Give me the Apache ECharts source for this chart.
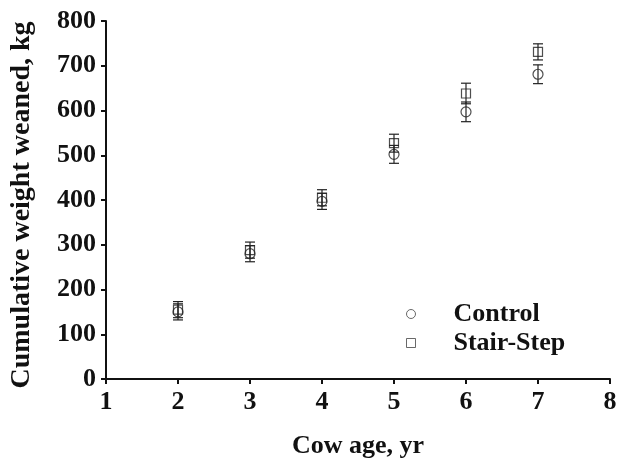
<!DOCTYPE html>
<html>
<head>
<meta charset="utf-8">
<script src="https://cdn.jsdelivr.net/npm/echarts@6/dist/echarts.min.js"></script>
<style>
html,body{margin:0;padding:0;background:#fff;}
#chart{width:623px;height:465px;}
</style>
</head>
<body>
<div id="chart"></div>
<script>
var ages = [2, 3, 4, 5, 6, 7];
var controlMean = [150, 280, 397, 502, 597, 681];
var controlErr = [18, 18, 18, 20, 22, 21];
var stairMean = [155, 288, 405, 527, 638, 731];
var stairErr = [18, 18, 18, 20, 23, 18];
var xTicks = [1, 2, 3, 4, 5, 6, 7, 8];
var yTicks = [0, 100, 200, 300, 400, 500, 600, 700, 800];

var FONT = '"Liberation Serif", "Times New Roman", serif';
var INK = '#222';
var FS = 26;

function pts(mean) { return ages.map(function (a, i) { return [a, mean[i]]; }); }
function errData(mean, err) {
  return ages.map(function (a, i) { return [a, mean[i] - err[i], mean[i] + err[i]]; });
}
function errRender(params, api) {
  var x = api.value(0);
  var lo = api.coord([x, api.value(1)]);
  var hi = api.coord([x, api.value(2)]);
  var hw = 5;
  var st = { stroke: INK, lineWidth: 1.2 };
  return {
    type: 'group',
    children: [
      { type: 'line', shape: { x1: lo[0], y1: lo[1], x2: hi[0], y2: hi[1] }, style: st },
      { type: 'line', shape: { x1: lo[0] - hw, y1: lo[1], x2: lo[0] + hw, y2: lo[1] }, style: st },
      { type: 'line', shape: { x1: hi[0] - hw, y1: hi[1], x2: hi[0] + hw, y2: hi[1] }, style: st }
    ]
  };
}

var chart = echarts.init(document.getElementById('chart'), null, { renderer: 'canvas' });
chart.setOption({
  animation: false,
  backgroundColor: '#fff',
  grid: { left: 105, right: 13, top: 21, bottom: 86 },
  xAxis: {
    type: 'value', min: xTicks[0], max: xTicks[xTicks.length - 1], interval: 1,
    name: 'Cow age, yr', nameLocation: 'middle', nameGap: 54,
    nameTextStyle: { fontFamily: FONT, fontWeight: 'bold', fontSize: FS, color: '#111' },
    axisLine: { lineStyle: { color: '#111', width: 2 } },
    axisTick: { show: true, inside: false, length: 5, lineStyle: { color: '#111', width: 2 } },
    axisLabel: { fontFamily: FONT, fontWeight: 'bold', fontSize: FS, color: '#111', margin: 10 },
    splitLine: { show: false }
  },
  yAxis: {
    type: 'value', min: yTicks[0], max: yTicks[yTicks.length - 1], interval: 100,
    name: 'Cumulative weight weaned, kg', nameLocation: 'middle', nameGap: 70, nameRotate: 90,
    nameTextStyle: { fontFamily: FONT, fontWeight: 'bold', fontSize: 28, color: '#111', padding: [0, 10, 0, 0] },
    axisLine: { show: true, lineStyle: { color: '#111', width: 2 } },
    axisTick: { show: true, inside: false, length: 5, lineStyle: { color: '#111', width: 2 } },
    axisLabel: { fontFamily: FONT, fontWeight: 'bold', fontSize: FS, color: '#111', margin: 10 },
    splitLine: { show: false }
  },
  legend: {
    orient: 'vertical', left: 401, top: 296, itemGap: 3,
    itemWidth: 9, itemHeight: 9,
    textStyle: { fontFamily: FONT, fontWeight: 'bold', fontSize: FS, color: '#111', padding: [0, 0, 0, 33] },
    data: [
      { name: 'Control', icon: 'circle', itemStyle: { color: 'rgba(0,0,0,0)', borderColor: '#444', borderWidth: 1 } },
      { name: 'Stair-Step', icon: 'rect', itemStyle: { color: 'rgba(0,0,0,0)', borderColor: '#444', borderWidth: 1 } }
    ]
  },
  series: [
    { name: 'ControlErr', type: 'custom', renderItem: errRender, data: errData(controlMean, controlErr), z: 3 },
    { name: 'StairErr', type: 'custom', renderItem: errRender, data: errData(stairMean, stairErr), z: 3 },
    {
      name: 'Control', type: 'scatter', symbol: 'circle', symbolSize: 10, data: pts(controlMean), z: 4,
      itemStyle: { color: 'rgba(0,0,0,0)', borderColor: INK, borderWidth: 1.2 }
    },
    {
      name: 'Stair-Step', type: 'scatter', symbol: 'rect', symbolSize: 9, data: pts(stairMean), z: 4,
      itemStyle: { color: 'rgba(0,0,0,0)', borderColor: INK, borderWidth: 1.2 }
    }
  ]
});
</script>
</body>
</html>
